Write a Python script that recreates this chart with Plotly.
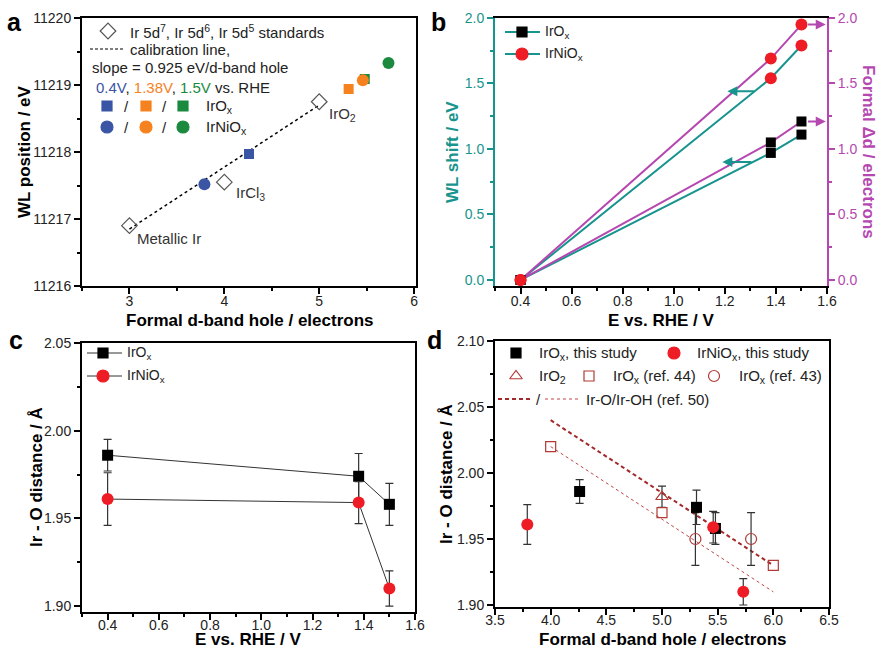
import plotly.graph_objects as go

W, H = 877, 650
FONT = "Liberation Sans, Arial, sans-serif"

# ---------------- data ----------------
# panel a
std_x = [3.0, 4.0, 5.0]
std_y = [11216.90, 11217.55, 11218.75]
std_labels = ["Metallic Ir", "IrCl<sub>3</sub>", "IrO<sub>2</sub>"]
cal_x = [3.0, 5.0]
cal_y = [11216.85, 11218.70]
hole_irox = [4.26, 5.31, 5.48]
wl_pos_irox = [11217.97, 11218.94, 11219.09]
hole_irniox = [3.79, 5.46, 5.73]
wl_pos_irniox = [11217.52, 11219.07, 11219.33]
pot_colors = ["#3B55A5", "#F5821F", "#1B8A3E"]

# panel b
potential = [0.4, 1.38, 1.5]
wl_shift_irox = [0.0, 0.97, 1.11]
wl_shift_irniox = [0.0, 1.54, 1.79]
dd_irox = [0.0, 1.05, 1.21]
dd_irniox = [0.0, 1.69, 1.95]
arrow_left_head = [(1.21, 1.44), (1.19, 0.90)]
arrow_left_tail = [(1.32, 1.44), (1.31, 0.90)]
arrow_right_head = [(1.595, 1.95), (1.595, 1.21)]
arrow_right_tail = [(1.52, 1.95), (1.52, 1.21)]

# panel c
dist_irox = [1.986, 1.974, 1.958]
dist_irox_err = [0.009, 0.013, 0.012]
dist_irniox = [1.961, 1.959, 1.910]
dist_irniox_err = [0.015, 0.012, 0.010]

# panel d
iro2_x, iro2_y, iro2_err = [5.0], [1.982], [0.008]
ref44_x, ref44_y = [4.0, 5.0, 6.0], [2.02, 1.97, 1.93]
ref43_x, ref43_y, ref43_err = [5.3, 5.8], [1.95, 1.95], [0.02, 0.02]
ref50_x = [4.0, 6.0]
ref50_iro = [2.04, 1.93]
ref50_iroh = [2.02, 1.91]

BLACK = "#000000"
RED = "#EE1C25"
TEAL = "#17948D"
MAG = "#B548B0"
DRED = "#B03A36"
GREY = "#333333"

fig = go.Figure()

# ---------------- panel a ----------------
fig.add_trace(go.Scatter(x=cal_x, y=cal_y, mode="lines", xaxis="x", yaxis="y",
                         line=dict(color=BLACK, width=1.5, dash="dot")))
fig.add_trace(go.Scatter(x=std_x, y=std_y, mode="markers", xaxis="x", yaxis="y",
                         marker=dict(symbol="diamond-open", size=12, color="#555",
                                     line=dict(width=1.2, color="#555"))))
fig.add_trace(go.Scatter(x=hole_irox, y=wl_pos_irox, mode="markers", xaxis="x", yaxis="y",
                         marker=dict(symbol="square", size=10, color=pot_colors)))
fig.add_trace(go.Scatter(x=hole_irniox, y=wl_pos_irniox, mode="markers", xaxis="x", yaxis="y",
                         marker=dict(symbol="circle", size=12, color=pot_colors)))

# ---------------- panel b ----------------
fig.add_trace(go.Scatter(x=potential, y=wl_shift_irox, mode="lines", xaxis="x2", yaxis="y2",
                         line=dict(color=TEAL, width=2)))
fig.add_trace(go.Scatter(x=potential, y=wl_shift_irniox, mode="lines", xaxis="x2", yaxis="y2",
                         line=dict(color=TEAL, width=2)))
fig.add_trace(go.Scatter(x=potential, y=dd_irox, mode="lines", xaxis="x2", yaxis="y3",
                         line=dict(color=MAG, width=2)))
fig.add_trace(go.Scatter(x=potential, y=dd_irniox, mode="lines", xaxis="x2", yaxis="y3",
                         line=dict(color=MAG, width=2)))
fig.add_trace(go.Scatter(x=potential, y=wl_shift_irox, mode="markers", xaxis="x2", yaxis="y2",
                         marker=dict(symbol="square", size=10, color=BLACK)))
fig.add_trace(go.Scatter(x=potential, y=dd_irox, mode="markers", xaxis="x2", yaxis="y3",
                         marker=dict(symbol="square", size=10, color=BLACK)))
fig.add_trace(go.Scatter(x=potential, y=wl_shift_irniox, mode="markers", xaxis="x2", yaxis="y2",
                         marker=dict(symbol="circle", size=12, color=RED)))
fig.add_trace(go.Scatter(x=potential, y=dd_irniox, mode="markers", xaxis="x2", yaxis="y3",
                         marker=dict(symbol="circle", size=12, color=RED)))

# ---------------- panel c ----------------
fig.add_trace(go.Scatter(x=potential, y=dist_irox, mode="lines+markers", xaxis="x3", yaxis="y4",
                         line=dict(color=GREY, width=1),
                         marker=dict(symbol="square", size=11, color=BLACK),
                         error_y=dict(type="data", array=dist_irox_err, color=GREY,
                                      thickness=1.2, width=4)))
fig.add_trace(go.Scatter(x=potential, y=dist_irniox, mode="lines+markers", xaxis="x3", yaxis="y4",
                         line=dict(color=GREY, width=1),
                         marker=dict(symbol="circle", size=12, color=RED),
                         error_y=dict(type="data", array=dist_irniox_err, color=GREY,
                                      thickness=1.2, width=4)))

# ---------------- panel d ----------------
fig.add_trace(go.Scatter(x=ref50_x, y=ref50_iro, mode="lines", xaxis="x4", yaxis="y5",
                         line=dict(color="#A3282A", width=2, dash="4px,3px")))
fig.add_trace(go.Scatter(x=ref50_x, y=ref50_iroh, mode="lines", xaxis="x4", yaxis="y5",
                         line=dict(color="#C04545", width=1, dash="dot")))
fig.add_trace(go.Scatter(x=ref43_x, y=ref43_y, mode="markers", xaxis="x4", yaxis="y5",
                         marker=dict(symbol="circle-open", size=11, color=DRED, line=dict(width=1.2)),
                         error_y=dict(type="data", array=ref43_err, color=GREY, thickness=1.2, width=4)))
fig.add_trace(go.Scatter(x=iro2_x, y=iro2_y, mode="markers", xaxis="x4", yaxis="y5",
                         marker=dict(symbol="triangle-up-open", size=11, color=DRED, line=dict(width=1.2)),
                         error_y=dict(type="data", array=iro2_err, color=GREY, thickness=1.2, width=4)))
fig.add_trace(go.Scatter(x=ref44_x, y=ref44_y, mode="markers", xaxis="x4", yaxis="y5",
                         marker=dict(symbol="square-open", size=10, color=DRED, line=dict(width=1.2))))
fig.add_trace(go.Scatter(x=hole_irox, y=dist_irox, mode="markers", xaxis="x4", yaxis="y5",
                         marker=dict(symbol="square", size=11, color=BLACK),
                         error_y=dict(type="data", array=dist_irox_err, color=GREY, thickness=1.2, width=4)))
fig.add_trace(go.Scatter(x=hole_irniox, y=dist_irniox, mode="markers", xaxis="x4", yaxis="y5",
                         marker=dict(symbol="circle", size=12, color=RED),
                         error_y=dict(type="data", array=dist_irniox_err, color=GREY, thickness=1.2, width=4)))

# ---------------- legend keys (overlay in pixel space) ----------------
def key_marker(x, y, symbol, size, color, lw=1.2):
    fig.add_trace(go.Scatter(x=[x], y=[y], mode="markers", xaxis="x5", yaxis="y6", cliponaxis=False,
                             marker=dict(symbol=symbol, size=size, color=color,
                                         line=dict(width=lw, color=color))))

def key_line(x0, x1, y, color, width, dash="solid"):
    fig.add_trace(go.Scatter(x=[x0, x1], y=[y, y], mode="lines", xaxis="x5", yaxis="y6", cliponaxis=False,
                             line=dict(color=color, width=width, dash=dash)))

annots = []

def key_text(x, y, text, size=15, color="#222", anchor="left"):
    annots.append(dict(x=x / W, y=1 - y / H, xref="paper", yref="paper", text=text, showarrow=False,
                       xanchor=anchor, yanchor="middle", font=dict(size=size, color=color)))

# panel a legend
key_marker(108, 31, "diamond-open", 12, "#555")
key_text(128, 31, "Ir 5d<sup>7</sup>, Ir 5d<sup>6</sup>, Ir 5d<sup>5</sup> standards")
key_line(90, 124, 49, BLACK, 1.2, "3px,2px")
key_text(128, 49, "calibration line,")
key_text(90, 68, "slope = 0.925 eV/d-band hole")
key_text(94, 87, '<span style="color:%s">0.4V</span>, <span style="color:%s">1.38V</span>, '
                 '<span style="color:%s">1.5V</span> vs. RHE' % tuple(pot_colors))
for xk, c in zip([107, 146, 183], pot_colors):
    key_marker(xk, 106, "square", 10, c)
    key_marker(xk, 127, "circle", 12, c)
for xs in [126, 164]:
    key_text(xs, 106, "/", anchor="center")
    key_text(xs, 127, "/", anchor="center")
key_text(204, 106, "IrO<sub>x</sub>")
key_text(204, 127, "IrNiO<sub>x</sub>")

# panel b legend
key_line(505, 540, 32, TEAL, 2)
key_marker(522, 32, "square", 10, BLACK)
key_text(543, 32, "IrO<sub>x</sub>", size=14)
key_line(505, 540, 54, TEAL, 2)
key_marker(522, 54, "circle", 12, RED)
key_text(543, 54, "IrNiO<sub>x</sub>", size=14)

# panel c legend
key_line(87, 122, 353, GREY, 1)
key_marker(103, 353, "square", 10, BLACK)
key_text(125, 353, "IrO<sub>x</sub>", size=14)
key_line(87, 122, 376, GREY, 1)
key_marker(103, 376, "circle", 12, RED)
key_text(125, 376, "IrNiO<sub>x</sub>", size=14)

# panel d legend
key_marker(516, 353, "square", 10, BLACK)
key_text(537, 353, "IrO<sub>x</sub>, this study")
key_marker(674, 353, "circle", 12, RED)
key_text(695, 353, "IrNiO<sub>x</sub>, this study")
key_marker(516, 376, "triangle-up-open", 11, DRED)
key_text(537, 376, "IrO<sub>2</sub>")
key_marker(589, 376, "square-open", 10, DRED)
key_text(611, 376, "IrO<sub>x</sub> (ref. 44)")
key_marker(714, 376, "circle-open", 11, DRED)
key_text(737, 376, "IrO<sub>x</sub> (ref. 43)")
key_line(498, 531, 399, "#A3282A", 2, "4px,3px")
key_text(538, 399, "/", anchor="center")
key_line(545, 579, 399, "#C04545", 1, "dot")
key_text(584, 399, "Ir-O/Ir-OH (ref. 50)")

# ---------------- text annotations ----------------
def pt(x, y, text, size=18, color="#000", angle=0, anchor="center"):
    annots.append(dict(x=x / W, y=1 - y / H, xref="paper", yref="paper", showarrow=False,
                       textangle=angle, text="<b>%s</b>" % text, xanchor=anchor, yanchor="middle",
                       font=dict(size=size, color=color)))

# panel letters
pt(14, 22, "a", size=25)
pt(438, 22, "b", size=25)
pt(16, 340, "c", size=25)
pt(434, 340, "d", size=25)

# axis titles
pt(249, 320, "Formal d-band hole / electrons", size=17)
pt(25, 152, "WL position / eV", size=17, angle=-90)
pt(661, 320, "E vs. RHE / V", size=17)
pt(453, 152, "WL shift / eV", size=17, angle=-90, color=TEAL)
pt(868, 152, "Formal \u0394d / electrons", size=17, angle=90, color=MAG)
pt(248, 639, "E vs. RHE / V", size=17)
pt(36, 477, "Ir - O distance / \u00c5", size=17, angle=-90)
pt(662, 639, "Formal d-band hole / electrons", size=17)
pt(446, 474, "Ir - O distance / \u00c5", size=17, angle=-90)

# standards labels (panel a)
for (xs, ys, lab, dx, dy) in zip(std_x, std_y, std_labels, [6, 10, 8], [-13, -11, -13]):
    annots.append(dict(x=xs, y=ys, xref="x", yref="y", text=lab, showarrow=False,
                       xanchor="left", yanchor="middle", xshift=dx, yshift=dy,
                       font=dict(size=15, color="#333")))

# arrows in panel b
for (hx, hy), (tx, ty) in zip(arrow_left_head, arrow_left_tail):
    annots.append(dict(x=hx, y=hy, ax=tx, ay=ty, xref="x2", yref="y2", axref="x2", ayref="y2",
                       showarrow=True, arrowhead=2, arrowsize=1, arrowwidth=2, arrowcolor=TEAL, text=""))
for (hx, hy), (tx, ty) in zip(arrow_right_head, arrow_right_tail):
    annots.append(dict(x=hx, y=hy, ax=tx, ay=ty, xref="x2", yref="y3", axref="x2", ayref="y3",
                       showarrow=True, arrowhead=2, arrowsize=1, arrowwidth=2, arrowcolor=MAG, text=""))

# ---------------- axes ----------------
def axis(domain, rng, dtick, minor_dt, fmt, anchor, color="black", **kw):
    d = dict(domain=domain, range=rng, dtick=dtick, tick0=0, tickformat=fmt, anchor=anchor,
             showline=True, linecolor=color, linewidth=2, mirror=True,
             ticks="outside", ticklen=6, tickwidth=1.5, tickcolor=color,
             showgrid=False, zeroline=False, automargin=False,
             tickfont=dict(size=14, color="#222" if color == "black" else color),
             minor=dict(dtick=minor_dt, ticks="outside", ticklen=3, tickwidth=1.5, tickcolor=color))
    d.update(kw)
    return d

def xd(p0, p1):
    return [p0 / W, p1 / W]

def yd(top, bottom):
    return [1 - bottom / H, 1 - top / H]

fig.update_layout(
    width=W, height=H, margin=dict(l=0, r=0, t=0, b=0, autoexpand=False),
    paper_bgcolor="white", plot_bgcolor="rgba(0,0,0,0)", showlegend=False,
    font=dict(family=FONT, color="#222"),
    xaxis=axis(xd(82, 416), [2.5, 6.02], 1, 0.5, "d", "y", ticklabelstandoff=-5),
    yaxis=axis(yd(18, 286), [11216, 11220], 1, 0.5, "d", "x"),
    xaxis2=axis(xd(495, 827), [0.3, 1.6], 0.2, 0.1, ".1f", "y2", ticklabelstandoff=-5),
    yaxis2=axis(yd(18, 286), [-0.046, 2.0], 0.5, 0.25, ".1f", "x2", color=TEAL, mirror=False),
    yaxis3=axis(yd(18, 286), [-0.046, 2.0], 0.5, 0.25, ".1f", "x2", color=MAG, mirror=False,
                side="right", overlaying="y2"),
    xaxis3=axis(xd(82, 415), [0.3, 1.6], 0.2, 0.1, ".1f", "y4", ticklabelstandoff=-7),
    yaxis4=axis(yd(343, 612), [1.8966, 2.05], 0.05, 0.025, ".2f", "x3"),
    xaxis4=axis(xd(495, 829), [3.5, 6.5], 0.5, 0.25, ".1f", "y5", ticklabelstandoff=-7),
    yaxis5=axis(yd(341, 607), [1.8985, 2.10], 0.05, 0.025, ".2f", "x4"),
    xaxis5=dict(domain=[0, 1], range=[0, W], visible=False, anchor="y6", fixedrange=True),
    yaxis6=dict(domain=[0, 1], range=[H, 0], visible=False, anchor="x5", fixedrange=True),
    annotations=annots,
)

fig.write_html("out.html")
